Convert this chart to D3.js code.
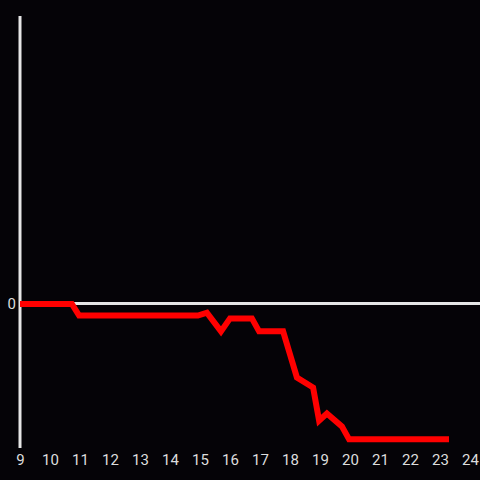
<!DOCTYPE html>
<html>
<head>
<meta charset="utf-8">
<script src="https://cdn.jsdelivr.net/npm/d3@7"></script>
<style>
  html, body { margin: 0; padding: 0; background: #050307; }
  svg { display: block; }
</style>
</head>
<body>
<div id="chart"></div>
<script>
// x ticks shown along the bottom
const xTicks = d3.range(9, 25);
// red series: hour -> value
const hours = [9, 10.73, 10.97, 14.93, 15.23, 15.7, 16.0, 16.73, 16.97, 17.77, 18.0, 18.23, 18.77, 18.97, 19.23, 19.73, 19.97, 23.3];
const values = [0, 0, -0.08, -0.08, -0.06, -0.19, -0.1, -0.1, -0.19, -0.19, -0.35, -0.51, -0.58, -0.81, -0.76, -0.85, -0.94, -0.94];
const yTicks = [0];

const width = 480, height = 480;
const margin = {top: 16, right: 10, bottom: 32, left: 20};

const svg = d3.select("#chart").append("svg")
    .attr("width", width)
    .attr("height", height);

svg.append("rect")
    .attr("width", width)
    .attr("height", height)
    .attr("fill", "#050307");

let xScale = d3.scaleLinear()
    .domain([9, 24])
    .range([margin.left, width - margin.right]);
let yScale = d3.scaleLinear()
    .domain([-1, 2])
    .range([height - margin.bottom, margin.top]);

// zero line
svg.append("line")
    .attr("x1", margin.left)
    .attr("x2", width)
    .attr("y1", yScale(0) - 0.5)
    .attr("y2", yScale(0) - 0.5)
    .attr("stroke", "#e6e6e6")
    .attr("stroke-width", 3);

// y axis line
svg.append("line")
    .attr("x1", margin.left)
    .attr("x2", margin.left)
    .attr("y1", margin.top)
    .attr("y2", height - margin.bottom)
    .attr("stroke", "#e6e6e6")
    .attr("stroke-width", 3);

// x labels
const xAxis = d3.axisBottom(xScale)
    .tickValues(xTicks)
    .tickSize(0)
    .tickPadding(0)
    .tickFormat(d3.format("d"));
const xg = svg.append("g")
    .attr("transform", `translate(0, ${height - margin.bottom + 6})`)
    .call(xAxis);
xg.select(".domain").remove();
xg.selectAll("text")
    .attr("fill", "#dddddd")
    .attr("font-family", "Roboto, sans-serif")
    .attr("font-size", 15);

// y labels
const yAxis = d3.axisLeft(yScale)
    .tickValues(yTicks)
    .tickSize(0)
    .tickPadding(4)
    .tickFormat(d3.format("d"));
const yg = svg.append("g")
    .attr("transform", `translate(${margin.left}, 0)`)
    .call(yAxis);
yg.select(".domain").remove();
yg.selectAll("text")
    .attr("fill", "#dddddd")
    .attr("font-family", "Roboto, sans-serif")
    .attr("font-size", 15);

// red line
const pts = hours.map((h, i) => [h, values[i]]);
const line = d3.line()
    .x(d => xScale(d[0]))
    .y(d => yScale(d[1]));
svg.append("path")
    .datum(pts)
    .attr("d", line)
    .attr("fill", "none")
    .attr("stroke", "#ff0000")
    .attr("stroke-width", 6)
    .attr("stroke-linejoin", "miter");
</script>
</body>
</html>
